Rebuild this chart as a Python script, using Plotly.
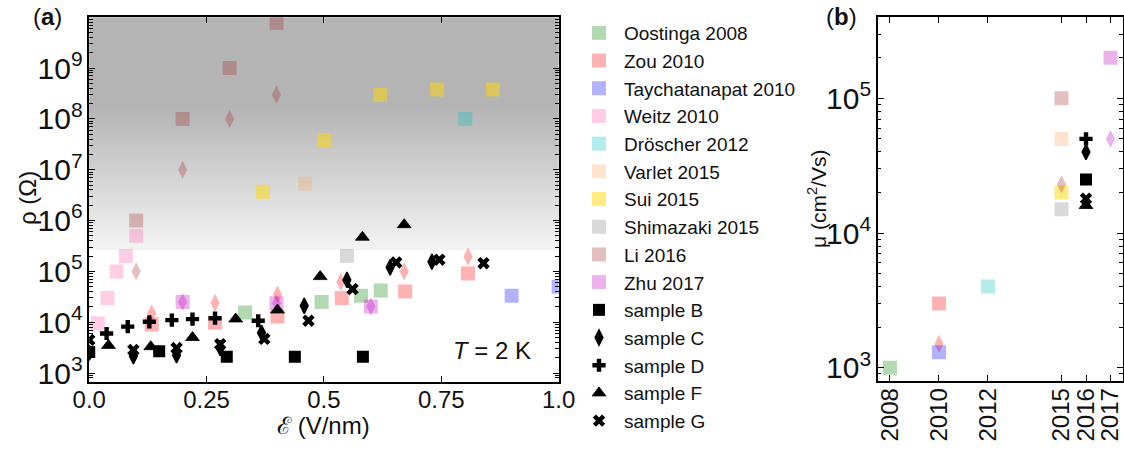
import math
import plotly.graph_objects as go

# ---------------- data: panel (a) resistivity vs field ----------------
oostinga_x = [0.332, 0.495, 0.579, 0.621]
oostinga_y = [1.55e4, 2.5e4, 3.3e4, 4.2e4]
zou_sq_x = [0.133, 0.268, 0.401, 0.538, 0.673, 0.807]
zou_sq_y = [9e3, 9.8e3, 1.3e4, 3e4, 4e4, 9.1e4]
zou_di_x = [0.133, 0.268, 0.401, 0.536, 0.671, 0.807]
zou_di_y = [1.5e4, 2.4e4, 3.5e4, 6.2e4, 1e5, 1.95e5]
tay_x = [0.900, 1.0]
tay_y = [3.3e4, 5e4]
weitz_x = [0.018, 0.039, 0.058, 0.078, 0.100]
weitz_y = [9.5e3, 3e4, 1e5, 2e5, 5e5]
droscher_x = [0.801]
droscher_y = [1e8]
varlet_x = [0.460]
varlet_y = [5.3e6]
sui_x = [0.370, 0.500, 0.620, 0.741, 0.860]
sui_y = [3.7e6, 3.8e7, 3e8, 3.8e8, 3.8e8]
shimazaki_x = [0.549]
shimazaki_y = [2e5]
li_sq_x = [0.100, 0.199, 0.299, 0.399]
li_sq_y = [1e6, 1e8, 1e9, 7.8e9]
li_di_x = [0.100, 0.199, 0.299, 0.399]
li_di_y = [1e5, 1e7, 1e8, 3e8]
zhu_x = [0.199, 0.399, 0.600]
zhu_sq_y = [2.5e4, 2.35e4, 2.05e4]
zhu_di_y = [2.5e4, 2.35e4, 2.05e4]

sB_x = [0.0, 0.149, 0.293, 0.438, 0.583]
sB_y = [2.6e3, 2.7e3, 2.1e3, 2.1e3, 2.1e3]
sC_x = [0.0, 0.094, 0.186, 0.279, 0.367, 0.458, 0.549, 0.641, 0.730]
sC_y = [2.5e3, 2.15e3, 2.25e3, 3.1e3, 6.2e3, 2.1e4, 6.8e4, 1.2e5, 1.55e5]
sD_x = [0.037, 0.082, 0.128, 0.176, 0.220, 0.268, 0.360]
sD_y = [6e3, 8.2e3, 1.02e4, 1.1e4, 1.15e4, 1.2e4, 1.07e4]
sF_x = [0.041, 0.131, 0.220, 0.312, 0.401, 0.492, 0.582, 0.671]
sF_y = [3.5e3, 3.3e3, 5e3, 1.16e4, 1.74e4, 7.9e4, 4.7e5, 8.3e5]
sG_x = [0.0, 0.094, 0.186, 0.279, 0.373, 0.467, 0.561, 0.654, 0.746, 0.840]
sG_y = [4.5e3, 2.85e3, 3.1e3, 3.7e3, 4.7e3, 1.07e4, 4.5e4, 1.5e5, 1.7e5, 1.45e5]

# ---------------- data: panel (b) mobility vs year ----------------
b_oostinga = ([2008], [1e3])
b_zou_sq = ([2010], [3e3])
b_zou_di = ([2010], [1.5e3])
b_tay = ([2010], [1.3e3])
b_droscher = ([2012], [4e3])
b_varlet = ([2015], [5e4])
b_sui = ([2015], [2e4])
b_shimazaki = ([2015], [1.5e4])
b_li_sq = ([2015], [1e5])
b_li_di = ([2015], [2.3e4])
b_zhu_sq = ([2017], [2e5])
b_zhu_di = ([2017], [5e4])
b_sB = ([2016], [2.5e4])
b_sC = ([2016], [4e4])
b_sD = ([2016], [5e4])
b_sF = ([2016], [1.6e4])
b_sG = ([2016], [1.8e4])

year_ticks = [2008, 2010, 2012, 2015, 2016, 2017]
x_ticks_a = [0.0, 0.25, 0.5, 0.75, 1.0]
x_ticktext_a = ["0.0", "0.25", "0.5", "0.75", "1.0"]

# ---------------- styles ----------------
C_OOS = "rgba(0,128,0,0.3)"
C_ZOU = "rgba(255,0,0,0.3)"
C_TAY = "rgba(0,0,255,0.3)"
C_WEI = "rgba(255,105,180,0.33)"
C_DRO = "rgba(0,191,191,0.3)"
C_VAR = "rgba(244,164,96,0.3)"
C_SUI = "rgba(255,215,0,0.5)"
C_SHI = "rgba(128,128,128,0.3)"
C_LI = "rgba(165,42,42,0.3)"
C_ZHU = "rgba(191,0,191,0.3)"
BLACK = "black"

SQ = 14
DI = 13
# black sample markers: (symbol, size, outline width)
STY_B = ("square", 12, 0)
STY_C = ("diamond-tall", 11, 1.5)
STY_D = ("cross", 11, 0)
STY_F = ("triangle-up", 12, 0.8)
STY_G = ("x", 11, 0)
FONT = "Liberation Sans, Arial, Helvetica, sans-serif"

fig = go.Figure()


def add(x, y, name, color, symbol, size, show=True, xa="x", ya="y", lw=0):
    fig.add_trace(go.Scatter(
        x=x, y=y, mode="markers", name=name, showlegend=show,
        legendgroup=name, xaxis=xa, yaxis=ya,
        marker=dict(symbol=symbol, size=size, color=color,
                    line=dict(width=lw, color=color)),
    ))


# panel (a)
add(oostinga_x, oostinga_y, "Oostinga 2008", C_OOS, "square", SQ)
add(zou_sq_x, zou_sq_y, "Zou 2010", C_ZOU, "square", SQ)
add(zou_di_x, zou_di_y, "Zou 2010", C_ZOU, "diamond-tall", DI, show=False)
add(tay_x, tay_y, "Taychatanapat 2010", C_TAY, "square", SQ)
add(weitz_x, weitz_y, "Weitz 2010", C_WEI, "square", SQ)
add(droscher_x, droscher_y, "Dröscher 2012", C_DRO, "square", SQ)
add(varlet_x, varlet_y, "Varlet 2015", C_VAR, "square", SQ)
add(sui_x, sui_y, "Sui 2015", C_SUI, "square", SQ)
add(shimazaki_x, shimazaki_y, "Shimazaki 2015", C_SHI, "square", SQ)
add(li_sq_x, li_sq_y, "Li 2016", C_LI, "square", SQ)
add(li_di_x, li_di_y, "Li 2016", C_LI, "diamond-tall", DI, show=False)
add(zhu_x, zhu_sq_y, "Zhu 2017", C_ZHU, "square", SQ)
add(zhu_x, zhu_di_y, "Zhu 2017", C_ZHU, "diamond-tall", DI, show=False)
for xs, ys, nm, sty in [(sB_x, sB_y, "sample B", STY_B), (sC_x, sC_y, "sample C", STY_C),
                        (sD_x, sD_y, "sample D", STY_D), (sF_x, sF_y, "sample F", STY_F),
                        (sG_x, sG_y, "sample G", STY_G)]:
    add(xs, ys, nm, BLACK, sty[0], sty[1], lw=sty[2])

# panel (b)
for (d, col, sym, sz, lw) in [
    (b_oostinga, C_OOS, "square", SQ, 0), (b_zou_sq, C_ZOU, "square", SQ, 0),
    (b_zou_di, C_ZOU, "diamond-tall", DI, 0), (b_tay, C_TAY, "square", SQ, 0),
    (b_droscher, C_DRO, "square", SQ, 0), (b_varlet, C_VAR, "square", SQ, 0),
    (b_sui, C_SUI, "square", SQ, 0), (b_shimazaki, C_SHI, "square", SQ, 0),
    (b_li_sq, C_LI, "square", SQ, 0), (b_li_di, C_LI, "diamond-tall", DI, 0),
    (b_zhu_sq, C_ZHU, "square", SQ, 0), (b_zhu_di, C_ZHU, "diamond-tall", DI, 0),
    (b_sB, BLACK) + STY_B[:2] + (STY_B[2],), (b_sC, BLACK) + STY_C[:2] + (STY_C[2],),
    (b_sD, BLACK) + STY_D[:2] + (STY_D[2],), (b_sF, BLACK) + STY_F[:2] + (STY_F[2],),
    (b_sG, BLACK) + STY_G[:2] + (STY_G[2],),
]:
    add(d[0], d[1], "b", col, sym, sz, show=False, xa="x2", ya="y2", lw=lw)

# gray gradient background, placed in y-domain fractions
Y_LO, Y_HI = 2.83, 9.999


def frac(logv):
    return (logv - Y_LO) / (Y_HI - Y_LO)


shapes = []
g_hi, g_lo = 8.2, 5.42
shapes.append(dict(type="rect", xref="x domain", yref="y domain", x0=0, x1=1,
                   y0=frac(g_hi), y1=1.0,
                   fillcolor="rgb(180,180,180)", line=dict(width=0), layer="below"))
N = 50
for i in range(N):
    a1 = g_hi - (g_hi - g_lo) * i / N
    a0 = g_hi - (g_hi - g_lo) * (i + 1) / N
    v = int(round(180 + 63 * (i + 0.5) / N))
    shapes.append(dict(type="rect", xref="x domain", yref="y domain", x0=0, x1=1,
                       y0=frac(a0), y1=min(1.0, frac(a1) + 0.006),
                       fillcolor=f"rgb({v},{v},{v})", line=dict(width=0), layer="below"))

axis_common = dict(
    showline=True, linecolor="black", linewidth=1.6, mirror="allticks",
    ticks="inside", ticklen=6, tickwidth=1.3, tickcolor="black",
    showgrid=False, zeroline=False, automargin=False,
    tickfont=dict(family=FONT, size=24, color="#111"),
)
minor_log = dict(ticks="inside", ticklen=3.5, tickwidth=1, tickcolor="black",
                 dtick="D1", showgrid=False)

fig.update_layout(
    width=1124, height=449,
    margin=dict(l=0, r=0, t=0, b=0),
    paper_bgcolor="white", plot_bgcolor="white",
    font=dict(family=FONT, color="#111"),
    shapes=shapes,
    xaxis=dict(domain=[0.0794, 0.4970], range=[0, 1.0], tickvals=x_ticks_a,
               ticktext=x_ticktext_a, anchor="y", ticklabelstandoff=-4, **axis_common),
    yaxis=dict(domain=[0.1499, 0.9615], type="log", range=[Y_LO, Y_HI], dtick=1,
               exponentformat="power", minor=minor_log, anchor="x", **axis_common),
    xaxis2=dict(domain=[0.7809, 0.9989], range=[2007.5, 2017.5], tickvals=year_ticks,
                tickangle=-90, anchor="y2", ticklabelstandoff=-4, **axis_common),
    yaxis2=dict(domain=[0.1521, 0.9615], type="log",
                range=[math.log10(800), math.log10(4e5)], dtick=1,
                exponentformat="power", minor=minor_log, anchor="x2", **axis_common),
    legend=dict(x=574 / 1124, xanchor="left", y=1 - 14 / 449, yanchor="top",
                font=dict(family=FONT, size=19, color="#111"),
                bgcolor="rgba(0,0,0,0)", itemwidth=40, tracegroupgap=0),
    showlegend=True,
)

ann_font = dict(family=FONT, size=24, color="#111")
title_font = dict(family=FONT, size=21, color="#111")
fig.add_annotation(text="(<b>a</b>)", xref="paper", yref="paper", x=47 / 1124, y=1 - 16 / 449,
                   showarrow=False, font=ann_font, xanchor="center", yanchor="middle")
fig.add_annotation(text="(<b>b</b>)", xref="paper", yref="paper", x=841 / 1124, y=1 - 16 / 449,
                   showarrow=False, font=ann_font, xanchor="center", yanchor="middle")
fig.add_annotation(text="ρ (Ω)", xref="paper", yref="paper", x=28 / 1124, y=1 - 198 / 449,
                   textangle=-90, showarrow=False, font=ann_font, xanchor="center", yanchor="middle")
fig.add_annotation(text="μ (cm<sup>2</sup>/Vs)", xref="paper", yref="paper", x=817 / 1124,
                   y=1 - 199 / 449, textangle=-90, showarrow=False, font=title_font,
                   xanchor="center", yanchor="middle")
fig.add_annotation(text="ℰ (V/nm)", xref="paper", yref="paper", x=323 / 1124, y=1 - 425 / 449,
                   showarrow=False, font=ann_font, xanchor="center", yanchor="middle")
fig.add_annotation(text="<i>T</i> = 2 K", xref="x", yref="y", x=0.858, y=3.45,
                   showarrow=False, font=ann_font, xanchor="center", yanchor="middle")

fig.write_html("out.html")
